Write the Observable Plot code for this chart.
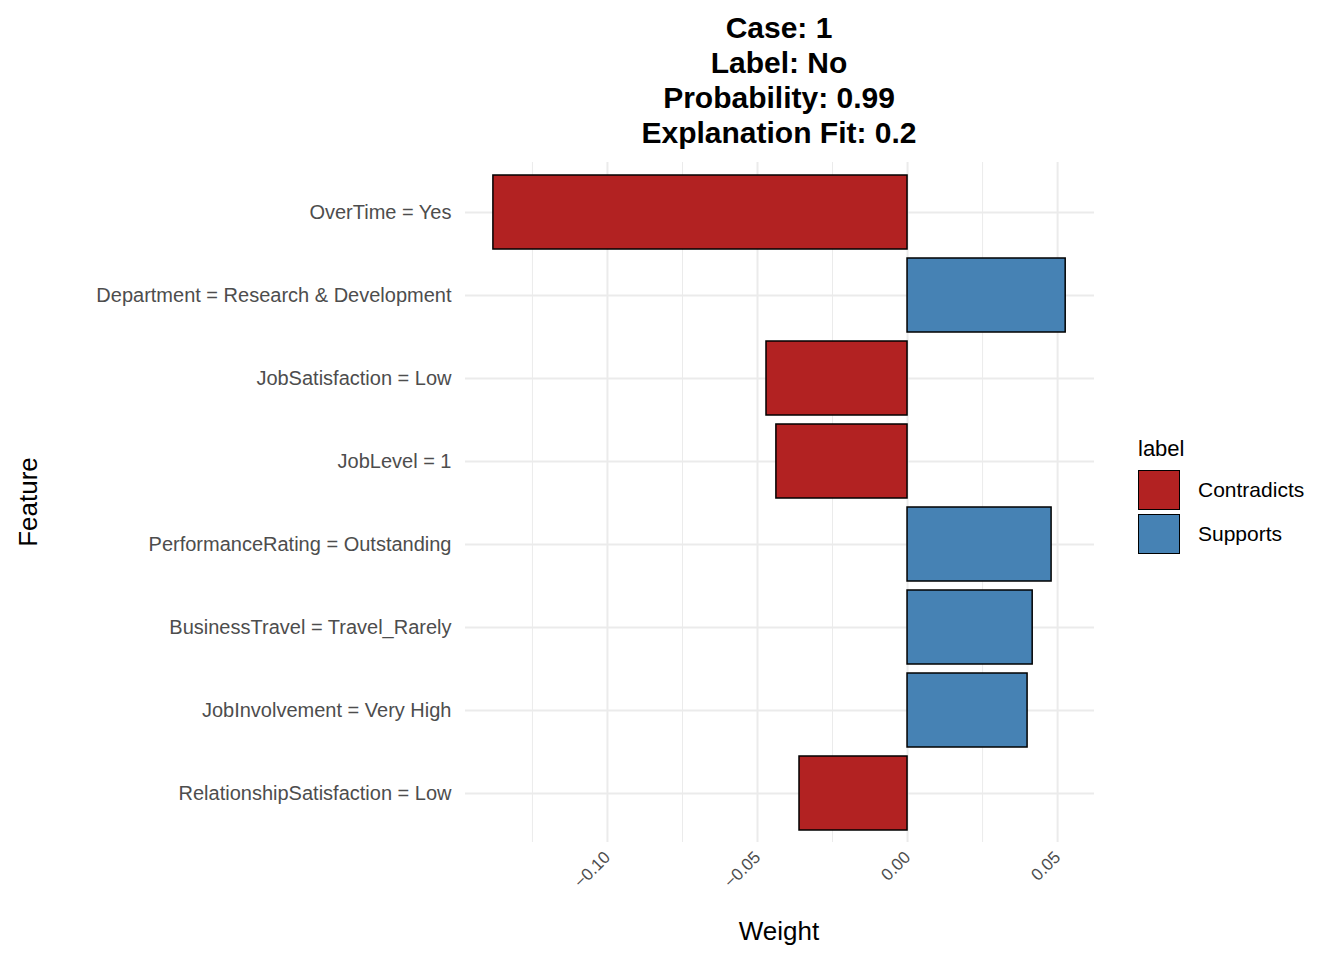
<!DOCTYPE html>
<html>
<head>
<meta charset="utf-8">
<script src="https://cdn.jsdelivr.net/npm/d3@7"></script>
<script src="https://cdn.jsdelivr.net/npm/@observablehq/plot@0.6"></script>
<style>
  body { margin: 0; background: #fff; font-family: Arial, "Liberation Sans", sans-serif; }
  #wrap { position: relative; width: 1344px; height: 960px; }
  #title { position: absolute; left: 479px; width: 600px; top: 10px; text-align: center;
           font-weight: bold; font-size: 30px; line-height: 35px; color: #000; }
  #legend { position: absolute; left: 1138px; top: 436px; font-size: 22px; color: #000; }
  .key { display: flex; align-items: center; margin-top: 4px; font-size: 21px; }
  .sw { width: 42px; height: 40px; border: 1.5px solid #000; box-sizing: border-box; margin-right: 18px; }
</style>
</head>
<body>
<div id="wrap">
  <div id="title">Case: 1<br>Label: No<br>Probability: 0.99<br>Explanation Fit: 0.2</div>
  <div id="chart"></div>
  <div id="legend">
    <div style="margin-bottom:8px">label</div>
    <div class="key"><div class="sw" style="background:#B22222"></div>Contradicts</div>
    <div class="key"><div class="sw" style="background:#4682B4"></div>Supports</div>
  </div>
</div>
<script>
const features = [
  "OverTime = Yes",
  "Department = Research & Development",
  "JobSatisfaction = Low",
  "JobLevel = 1",
  "PerformanceRating = Outstanding",
  "BusinessTravel = Travel_Rarely",
  "JobInvolvement = Very High",
  "RelationshipSatisfaction = Low"
];
const weights = [-0.138, 0.0527, -0.047, -0.0437, 0.048, 0.0417, 0.040, -0.036];
const majorTicks = [-0.10, -0.05, 0.00, 0.05];
const minorTicks = [-0.125, -0.075, -0.025, 0.025];

const data = features.map((f, i) => ({
  feature: f, weight: weights[i], label: weights[i] < 0 ? "Contradicts" : "Supports"
}));

const chart = Plot.plot({
  width: 1344, height: 960,
  marginLeft: 465, marginRight: 250, marginTop: 162, marginBottom: 118,
  style: { fontFamily: "Arial, 'Liberation Sans', sans-serif", background: "transparent" },
  x: { domain: [-0.1473, 0.0623], ticks: majorTicks, tickFormat: d3.format(".2f"),
       label: null, tickRotate: -45, tickSize: 0, tickPadding: 12 },
  y: { domain: features, padding: 0.11, label: null, tickSize: 0, tickPadding: 14 },
  color: { domain: ["Contradicts", "Supports"], range: ["#B22222", "#4682B4"] },
  marks: [
    Plot.ruleX(minorTicks, { stroke: "#ebebeb", strokeWidth: 1 }),
    Plot.ruleX(majorTicks, { stroke: "#ebebeb", strokeWidth: 2 }),
    Plot.ruleY(features, { y: d => d, stroke: "#ebebeb", strokeWidth: 2 }),
    Plot.barX(data, { y: "feature", x: "weight", fill: "label", stroke: "#000", strokeWidth: 1.5 }),
    Plot.axisX({ ticks: majorTicks, tickFormat: d3.format(".2f"), tickRotate: -45, tickSize: 0,
                 tickPadding: 12, fontSize: 17, fill: "#4d4d4d", label: null }),
    Plot.axisY({ tickSize: 0, tickPadding: 14, fontSize: 20, fill: "#4d4d4d", label: null })
  ]
});
chart.style.position = "absolute";
chart.style.left = "0"; chart.style.top = "0";
document.getElementById("chart").appendChild(chart);

const svg = d3.select(chart);
svg.append("text").attr("x", 779).attr("y", 940).attr("text-anchor", "middle")
  .attr("font-size", 26).attr("fill", "#000").text("Weight");
svg.append("text").attr("transform", "translate(37,502) rotate(-90)").attr("text-anchor", "middle")
  .attr("font-size", 26).attr("fill", "#000").text("Feature");
</script>
</body>
</html>
